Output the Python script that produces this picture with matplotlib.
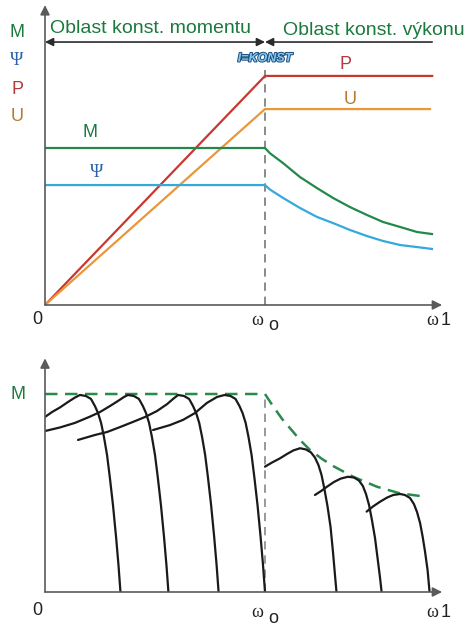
"""Field-weakening diagram of an induction motor drive: M, Psi, P, U vs speed (top)
and the family of torque-speed characteristics with their envelope (bottom).
Speed in % of omega_0, quantities in % of rated torque.
"""
import matplotlib
matplotlib.use("Agg")
import matplotlib.pyplot as plt  # noqa: E402
import matplotlib.patheffects as pe  # noqa: E402

plt.rcParams["font.family"] = ["Liberation Sans", "DejaVu Sans"]

# ---- top panel (speed in % of w0, values in % of rated torque) ----
W_LIN = [0, 100, 176]
W_U = [0, 100, 175]
P_VAL = [0, 145.9, 145.9]
U_VAL = [0, 124.8, 124.8]
W_DECAY = [0, 100, 102.3, 108.2, 115.9, 123.6, 130.9, 138.6, 146.4, 153.6, 161.4, 169.1, 175.9]
M_VAL = [100, 100, 96.6, 90.4, 81.5, 74.5, 68.2, 62.4, 57.3, 52.9, 49.7, 46.5, 45.2]
PSI_VAL = [76.4, 76.4, 73.5, 68.2, 61.8, 56.1, 52.2, 47.8, 43.9, 40.8, 38.2, 36.9, 35.7]

# ---- bottom panel: torque-speed characteristics for several supply frequencies ----
CHAR_W = [
    [0, 3.2, 6.8, 10.5, 13.6, 15.9, 18.6, 20.9, 22.7, 24.1, 25.5, 26.8, 28.2, 29.5,
     30.9, 32.3, 33.4, 34.3],
    [0, 6.8, 13.6, 20.5, 25.0, 29.5, 33.2, 35.9, 37.7, 40.4, 42.7, 44.5, 45.9, 47.3,
     48.6, 50.0, 51.3, 52.7, 54.1, 55.2, 56.1],
    [15.0, 22.7, 28.2, 34.1, 40.0, 45.5, 50.9, 55.5, 58.2, 60.5, 63.2, 65.5, 67.3, 68.7,
     70.1, 71.4, 72.8, 74.1, 75.5, 76.9, 78.0, 78.9],
    [49.1, 56.8, 62.7, 68.2, 73.6, 78.2, 81.6, 84.3, 86.6, 88.4, 89.8, 91.2, 92.5, 93.9,
     95.2, 96.6, 98.0, 99.1, 100.0],
    [100, 103.2, 106.8, 110.0, 112.9, 115.9, 118.6, 120.9, 122.7, 124.3, 125.7, 127.0,
     128.4, 129.8, 130.9, 132.0, 132.5],
    [122.7, 125.5, 128.2, 131.4, 134.5, 137.7, 140.5, 142.7, 144.5, 145.9, 147.3, 148.6,
     150.0, 151.1, 152.3, 153.0],
    [146.2, 149.1, 152.3, 155.5, 158.3, 161.4, 163.6, 165.9, 167.7, 169.1, 170.5, 171.6,
     172.7, 173.9, 174.8],
]
CHAR_M = [
    [88.4, 90.9, 93.2, 96.0, 98.2, 99.5, 99.0, 97.5, 93.9, 90.4, 85.4, 78.3, 69.2, 57.6,
     43.9, 27.8, 13.6, 0],
    [81.3, 83.1, 85.4, 88.6, 90.9, 93.9, 96.5, 98.5, 99.5, 99.0, 97.5, 93.9, 90.4, 85.4,
     78.3, 69.2, 57.6, 43.9, 27.8, 13.6, 0],
    [76.8, 79.3, 80.8, 83.3, 85.9, 88.4, 91.4, 94.9, 97.5, 99.5, 99.0, 97.5, 93.9, 90.4,
     85.4, 78.3, 69.2, 57.6, 43.9, 27.8, 13.6, 0],
    [81.8, 84.3, 86.9, 90.4, 95.5, 98.5, 99.5, 99.0, 97.5, 93.9, 90.4, 85.4, 78.3, 69.2,
     57.6, 43.9, 27.8, 13.6, 0],
    [63.3, 65.4, 67.5, 69.7, 71.5, 72.6, 72.0, 70.5, 67.9, 64.1, 59.1, 52.0, 43.4, 32.8,
     20.2, 6.1, 0],
    [49.0, 51.0, 53.2, 55.6, 57.3, 58.2, 57.8, 56.3, 53.5, 49.5, 43.9, 36.4, 27.3, 17.7,
     7.1, 0],
    [40.6, 43.2, 45.6, 47.7, 49.0, 49.5, 49.0, 47.5, 44.4, 40.4, 34.8, 28.3, 20.7, 11.1, 0],
]
ENV_W = [0, 100, 102.6, 104.9, 107.9, 111.4, 115.9, 120.5, 125.8, 131.0, 140.1, 150.8,
         161.4, 170.5]
ENV_M = [100, 100, 95.6, 91.9, 87.2, 82.7, 76.8, 71.7, 67.3, 63.6, 58.2, 53.2, 49.8, 48.5]

GREEN, BLUE, RED, ORANGE = "#23894a", "#34a9dc", "#c9372f", "#e9973a"
AXC = "#5a5a5a"


def axis_arrows(ax, xmax, ymax):
    kw = dict(arrowstyle="-|>", color=AXC, lw=1.2, mutation_scale=14, shrinkA=0, shrinkB=0)
    ax.annotate("", xy=(xmax, 0), xytext=(0, 0), arrowprops=kw)
    ax.annotate("", xy=(0, ymax), xytext=(0, 0), arrowprops=kw)


def omega_labels(ax, y):
    ax.text(-3.5, y, "0", fontsize=13, ha="center", va="center", color="#222")
    ax.text(96.5, y - 1, "ω", fontsize=13, family="Liberation Serif", ha="center", va="center", color="#222")
    ax.text(103.8, y - 4, "o", fontsize=13, ha="center", va="center", color="#222")
    ax.text(176, y - 1, "ω", fontsize=13, family="Liberation Serif", ha="center", va="center", color="#222")
    ax.text(182.3, y - 1, "1", fontsize=13, ha="center", va="center", color="#222")


fig = plt.figure(figsize=(4.7, 6.28), dpi=100)

# top: axes spans px x 45..445, y 0..305 (2.2 px per % speed, 1.57 px per % torque)
ax = fig.add_axes([45 / 470, 323 / 628, 400 / 470, 305 / 628])
ax.set_xlim(0, 400 / 2.2)
ax.set_ylim(0, 305 / 1.57)
ax.axis("off")
axis_arrows(ax, 180.5, 191)
ax.plot([100, 100], [0, 151.6], color="#777", lw=1.2, ls=(0, (5, 3.5)))
ax.plot(W_LIN, P_VAL, color=RED, lw=1.6)
ax.plot(W_U, U_VAL, color=ORANGE, lw=1.6)
ax.plot(W_DECAY, M_VAL, color=GREEN, lw=1.6)
ax.plot(W_DECAY, PSI_VAL, color=BLUE, lw=1.6)

hk = dict(color="#2b2b2b", lw=1.2, mutation_scale=12, shrinkA=0, shrinkB=0)
ax.annotate("", xy=(100, 167.5), xytext=(0, 167.5), arrowprops=dict(arrowstyle="<|-|>", **hk))
ax.annotate("", xy=(100, 167.5), xytext=(176, 167.5), arrowprops=dict(arrowstyle="-|>", **hk))
ax.text(2.3, 173, "Oblast konst. momentu", fontsize=14, color="#1b7a3e", va="baseline", clip_on=False)
ax.text(108.2, 172, "Oblast konst. výkonu", fontsize=14, color="#1b7a3e", va="baseline", clip_on=False)
ax.text(100, 157, "I=KONST", fontsize=9, style="italic", weight="bold", color="#86c6ee",
        ha="center", va="center",
        path_effects=[pe.withStroke(linewidth=1.4, foreground="#1d4f7a")])

ax.text(20.5, 109.6, "M", fontsize=13, color="#1b7a3e", ha="center", va="center")
ax.text(23.6, 84.7, "Ψ", fontsize=13, family="Liberation Serif", color="#2c63a6", ha="center", va="center")
ax.text(136.4, 153, "P", fontsize=13, color="#b23a3a", ha="center", va="center")
ax.text(138.6, 130.6, "U", fontsize=13, color="#b9782f", ha="center", va="center")

for lbl, yv, col, fam in [("M", 173.5, "#1b7a3e", "Liberation Sans"),
                          ("Ψ", 155.5, "#2c63a6", "Liberation Serif"),
                          ("P", 137, "#b23a3a", "Liberation Sans"),
                          ("U", 120, "#b9782f", "Liberation Sans")]:
    ax.text(-12.7, yv, lbl, fontsize=13, family=fam, color=col, ha="center", va="center", clip_on=False)
omega_labels(ax, -9)

# bottom: axes spans px x 45..445, y 355..592 (1.98 px per % torque)
bx = fig.add_axes([45 / 470, 36 / 628, 400 / 470, 237 / 628])
bx.set_xlim(0, 400 / 2.2)
bx.set_ylim(0, 237 / 1.98)
bx.axis("off")
axis_arrows(bx, 180.5, 118)
bx.plot([100, 100], [0, 100], color="#888", lw=1.2, ls=(0, (5, 3.5)))
bx.plot(ENV_W, ENV_M, color="#2a8a4e", lw=1.8, ls=(0, (5, 3)))
for ws, ms in zip(CHAR_W, CHAR_M):
    bx.plot(ws, ms, color="#1a1a1a", lw=1.6, solid_capstyle="round", solid_joinstyle="round")
bx.text(-12.3, 99.5, "M", fontsize=13, color="#1b7a3e", ha="center", va="center", clip_on=False)
omega_labels(bx, -9.5)

fig.savefig("out.png", dpi=100)
plt.close(fig)
